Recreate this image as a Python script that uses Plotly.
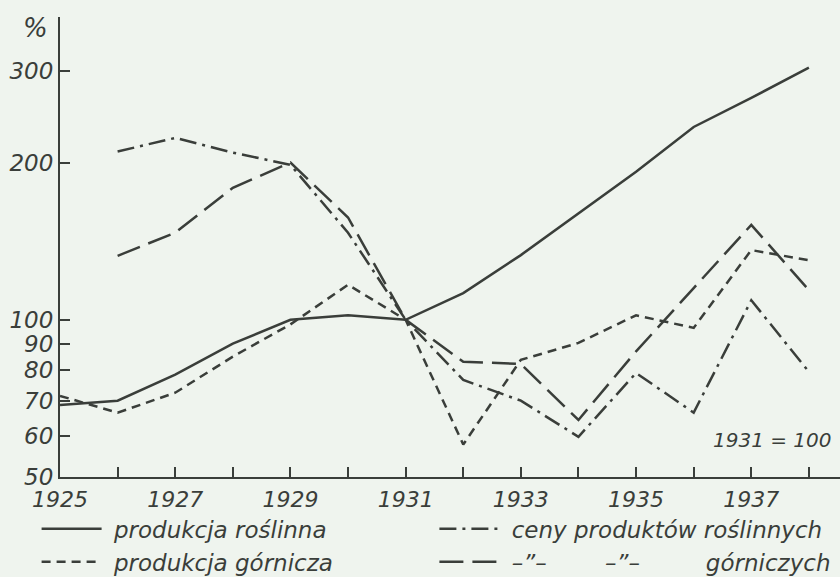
import plotly.graph_objects as go
import numpy as np

years = list(range(1925, 1939))
prod_rosl = [68.7, 70.0, 78.5, 90.0, 100.0, 102.0, 100.0, 112.5, 133.0, 160.0, 192.0, 234.0, 266.0, 304.0]
prod_gorn = [71.5, 66.4, 72.5, 85.0, 98.0, 116.7, 100.0, 57.7, 83.8, 90.3, 102.0, 96.5, 136.0, 130.0]
years_ceny = list(range(1926, 1939))
ceny_rosl = [210.0, 223.0, 209.0, 198.0, 146.8, 100.0, 76.7, 70.0, 59.7, 79.1, 66.4, 109.0, 79.5]
ceny_gorn = [132.6, 146.8, 179.0, 200.0, 157.0, 100.0, 83.1, 82.3, 64.3, 87.0, 115.0, 152.0, 114.0]

y_ticks = [50, 60, 70, 80, 90, 100, 200, 300]
x_tick_labels = [str(y) if y % 2 == 1 else "" for y in years]

INK = "#3a3e3a"
BG = "#eff4ee"
FONT = "DejaVu Sans"
NB = "\u00a0"
DITTO = "\u2013\u201d\u2013"

fig = go.Figure()
fig.add_trace(go.Scatter(x=years, y=prod_rosl, mode="lines", name="<i>" + NB + "produkcja roślinna</i>",
                         line=dict(color=INK, width=2.5), legend="legend"))
fig.add_trace(go.Scatter(x=years, y=prod_gorn, mode="lines", name="<i>" + NB + "produkcja górnicza</i>",
                         line=dict(color=INK, width=2.5, dash="9px,6px"), legend="legend"))
fig.add_trace(go.Scatter(x=years_ceny, y=ceny_rosl, mode="lines", name="<i>" + NB + "ceny produktów roślinnych</i>",
                         line=dict(color=INK, width=2.5, dash="17px,6px,3px,6px"), legend="legend2"))
fig.add_trace(go.Scatter(x=years_ceny, y=ceny_gorn, mode="lines",
                         name="<i>" + NB + DITTO + NB * 8 + DITTO + NB * 9 + "górniczych</i>",
                         line=dict(color=INK, width=2.5, dash="24px,9px"), legend="legend2"))

fig.update_layout(
    width=840, height=577,
    margin=dict(l=60, r=0, t=17, b=100, autoexpand=False),
    paper_bgcolor=BG, plot_bgcolor=BG,
    font=dict(family=FONT, color=INK, size=23),
    showlegend=True,
    legend=dict(x=-0.03, y=-0.066, xanchor="left", yanchor="top", bgcolor="rgba(0,0,0,0)",
                font=dict(size=23, family=FONT, color=INK), tracegroupgap=0, itemwidth=60),
    legend2=dict(x=0.48, y=-0.066, xanchor="left", yanchor="top", bgcolor="rgba(0,0,0,0)",
                 font=dict(size=23, family=FONT, color=INK), tracegroupgap=0, itemwidth=60),
    xaxis=dict(range=[1925, 1938.54], showgrid=False, zeroline=False, automargin=False,
               showline=True, linecolor=INK, linewidth=2,
               ticks="inside", ticklen=10, tickwidth=1.5, tickcolor=INK,
               tickmode="array", tickvals=years, ticktext=["<i>%s</i>" % t if t else "" for t in x_tick_labels],
               tickfont=dict(size=22, family=FONT, color=INK), ticklabelstandoff=2),
    yaxis=dict(type="log", range=[np.log10(50), np.log10(380)], showgrid=False, zeroline=False, automargin=False,
               showline=True, linecolor=INK, linewidth=2,
               ticks="inside", ticklen=10, tickwidth=1.5, tickcolor=INK,
               tickmode="array", tickvals=y_ticks, ticktext=["<i>%d</i>" % v for v in y_ticks],
               tickfont=dict(size=23, family=FONT, color=INK)),
    annotations=[
        dict(text="<i>%</i>", xref="paper", yref="paper", x=-0.032, y=0.976, xanchor="center", yanchor="middle",
             showarrow=False, font=dict(size=26, family=FONT, color=INK)),
        dict(text="<i>1931 = 100</i>", xref="paper", yref="paper", x=0.992, y=0.08, xanchor="right", yanchor="middle",
             showarrow=False, font=dict(size=20, family=FONT, color=INK)),
    ],
)

fig.write_html("out.html", post_script="document.body.style.margin='0px';",
               config={"displayModeBar": False})
